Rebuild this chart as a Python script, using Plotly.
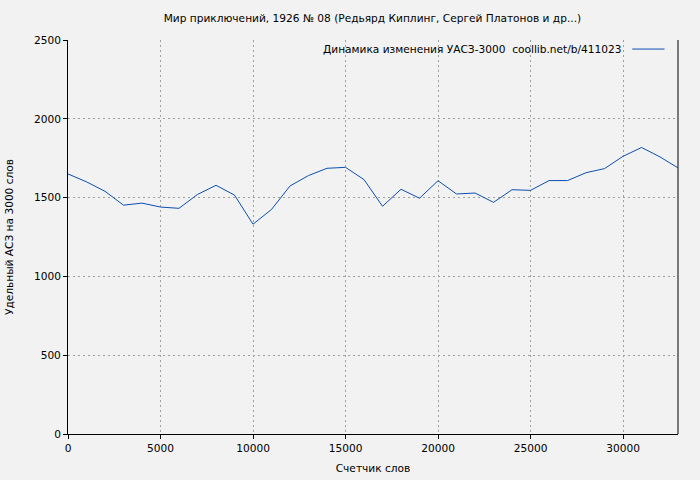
import plotly.graph_objects as go

words = [0, 1000, 2000, 3000, 4000, 5000, 6000, 7000, 8000, 9000, 10000,
         11000, 12000, 13000, 14000, 15000, 16000, 17000, 18000, 19000, 20000,
         21000, 22000, 23000, 24000, 25000, 26000, 27000, 28000, 29000, 30000,
         31000, 32000, 32950]
asz = [1650, 1600, 1540, 1452, 1465, 1440, 1432, 1520, 1578, 1516, 1331,
       1425, 1574, 1640, 1686, 1692, 1614, 1445, 1553, 1496, 1607,
       1523, 1529, 1470, 1550, 1546, 1608, 1608, 1658, 1684, 1762,
       1818, 1758, 1690]

title = "Мир приключений, 1926 № 08 (Редьярд Киплинг, Сергей Платонов и др...)"
legend_text = "Динамика изменения УАСЗ-3000  coollib.net/b/411023"
x_title = "Счетчик слов"
y_title = "Удельный АСЗ на 3000 слов"
x_ticks = [0, 5000, 10000, 15000, 20000, 25000, 30000]
y_ticks = [0, 500, 1000, 1500, 2000, 2500]

line_color = "#0b4fb3"
bg = "#f2f2f2"
font = "DejaVu Sans"
fs = 10.6

fig = go.Figure()
fig.add_trace(go.Scatter(x=words, y=asz, mode="lines",
                         line=dict(color=line_color, width=1),
                         showlegend=False, hoverinfo="skip"))

fig.update_layout(
    width=700, height=480,
    paper_bgcolor=bg, plot_bgcolor=bg,
    margin=dict(l=68, r=22, t=40, b=46, autoexpand=False),
    font=dict(family=font, size=fs, color="#000"),
    title=dict(text=title, x=0.532, xanchor="center", y=0.962, yanchor="middle",
               font=dict(family=font, size=fs, color="#000")),
    showlegend=False,
)
fig.update_xaxes(range=[0, 32970], tickvals=x_ticks, ticktext=[str(v) for v in x_ticks],
                 showline=True, linecolor="#000", linewidth=1,
                 ticks="outside", ticklen=4, tickcolor="#000",
                 showgrid=True, gridcolor="#a0a0a0", griddash="2px,3px", gridwidth=1,
                 zeroline=False, automargin=False,
                 title=dict(text=x_title, font=dict(family=font, size=fs), standoff=11),
                 tickfont=dict(family=font, size=fs))
fig.update_yaxes(range=[0, 2500], tickvals=y_ticks, ticktext=[str(v) for v in y_ticks],
                 showline=True, linecolor="#000", linewidth=1,
                 ticks="outside", ticklen=4, tickcolor="#000",
                 showgrid=True, gridcolor="#a0a0a0", griddash="2px,3px", gridwidth=1,
                 zeroline=False, automargin=False,
                 title=dict(text=y_title, font=dict(family=font, size=fs), standoff=18),
                 tickfont=dict(family=font, size=fs))

# right border
fig.add_shape(type="line", xref="paper", yref="paper", x0=1, x1=1, y0=0, y1=1,
              line=dict(color="#000", width=1))
# legend
fig.add_annotation(text=legend_text, xref="paper", yref="paper",
                   x=0.912, y=0.977, xanchor="right", yanchor="middle",
                   showarrow=False, font=dict(family=font, size=fs, color="#000"))
fig.add_shape(type="line", xref="paper", yref="paper", x0=0.925, x1=0.978,
              y0=0.977, y1=0.977, line=dict(color=line_color, width=1))

fig.write_html("out.html", config={"displayModeBar": False, "staticPlot": True},
               post_script="document.body.style.margin='0';document.body.style.background='#f2f2f2';")
